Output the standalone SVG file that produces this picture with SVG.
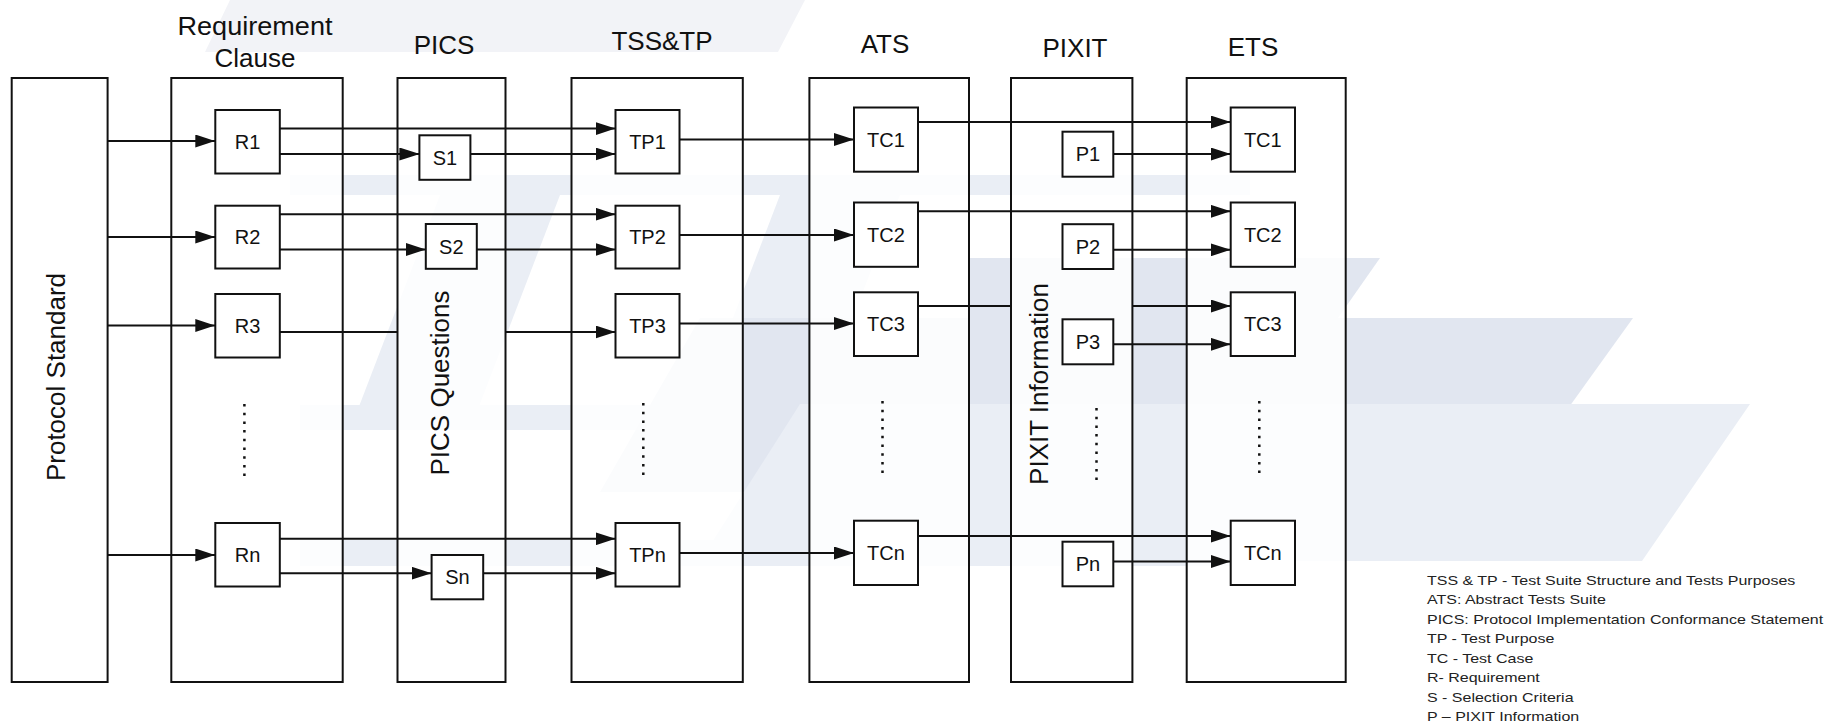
<svg xmlns="http://www.w3.org/2000/svg" width="1834" height="724" viewBox="0 0 1834 724">
<style>
.bg{fill:#ffffff}
.wm{fill:#e1e6f0}
.wm2{fill:#eaeef5}
.wm3{fill:#f2f3f7}
.cont{fill:#ffffff;fill-opacity:0.85;stroke:#111;stroke-width:2}
.node{fill:#ffffff;stroke:#111;stroke-width:2}
.hdr{font-family:"Liberation Sans",Arial,sans-serif;font-size:26px;fill:#111;text-anchor:middle}
.lbl{font-family:"Liberation Sans",Arial,sans-serif;font-size:20px;fill:#111;text-anchor:middle}
.rot{font-family:"Liberation Sans",Arial,sans-serif;font-size:26px;fill:#111;text-anchor:middle}
.leg{font-family:"Liberation Sans",Arial,sans-serif;font-size:13px;fill:#222}
.ln{stroke:#111;stroke-width:2;fill:none}
.arr{stroke:#111;stroke-width:2;fill:none;marker-end:url(#ah)}
.dots{stroke:#111;stroke-width:2.5;stroke-dasharray:2.5 6.2}
</style>
<defs>
<marker id="ah" markerUnits="userSpaceOnUse" markerWidth="20" markerHeight="13" refX="20" refY="6.5" orient="auto">
<path d="M0,0 L20,6.5 L0,13 z" fill="#111"/>
</marker>
</defs>
<rect class="bg" x="0" y="0" width="1834" height="724"/>
<g id="watermark">
<polygon class="wm3" points="230,0 805,0 778,52 205,52"/>
<polygon class="wm2" points="290,175 1250,175 1250,195 290,195"/>
<polygon class="wm2" points="440,195 560,195 470,430 350,430"/>
<polygon class="wm2" points="780,195 900,195 810,430 690,430"/>
<polygon class="wm2" points="300,405 1250,405 1250,430 300,430"/>
<polygon class="wm" points="970,258 1380,258 1338,318 970,318"/>
<polygon class="wm" points="700,318 1633,318 1508,492 600,492"/>
<polygon class="wm2" points="800,404 1750,404 1642,561 700,561"/>
<polygon class="wm2" points="300,540 1250,540 1250,566 300,566"/>
</g>
<g id="containers">
<g id="protocol-standard"><rect class="cont" x="11.7" y="78" width="95.9" height="604"/><text class="rot" transform="translate(65,377) rotate(-90)">Protocol Standard</text></g>
<g id="requirement-clause"><rect class="cont" x="171.3" y="78" width="171.4" height="604"/><text class="hdr" x="255" y="35" textLength="155" lengthAdjust="spacingAndGlyphs">Requirement</text><text class="hdr" x="255" y="67">Clause</text><line class="dots" x1="244.4" y1="404" x2="244.4" y2="477"/></g>
<g id="pics"><rect class="cont" x="397.5" y="78" width="108" height="604"/><text class="hdr" x="444" y="54">PICS</text><text class="rot" transform="translate(449,383) rotate(-90)">PICS Questions</text></g>
<g id="tss-tp"><rect class="cont" x="571.5" y="78" width="171.3" height="604"/><text class="hdr" x="662" y="50">TSS&amp;TP</text><line class="dots" x1="643.3" y1="403" x2="643.3" y2="476"/></g>
<g id="ats"><rect class="cont" x="809.4" y="78" width="159.6" height="604"/><text class="hdr" x="885" y="53">ATS</text><line class="dots" x1="882.5" y1="401" x2="882.5" y2="474"/></g>
<g id="pixit"><rect class="cont" x="1011" y="78" width="121.4" height="604"/><text class="hdr" x="1075" y="57">PIXIT</text><text class="rot" transform="translate(1048,384) rotate(-90)">PIXIT Information</text><line class="dots" x1="1096.5" y1="408" x2="1096.5" y2="481"/></g>
<g id="ets"><rect class="cont" x="1186.7" y="78" width="159" height="604"/><text class="hdr" x="1253" y="56">ETS</text><line class="dots" x1="1259.3" y1="401" x2="1259.3" y2="474"/></g>
</g>
<g id="connectors">
<line class="arr" x1="107.6" y1="141" x2="215.3" y2="141"/>
<line class="arr" x1="107.6" y1="237" x2="215.3" y2="237"/>
<line class="arr" x1="107.6" y1="325.5" x2="215.3" y2="325.5"/>
<line class="arr" x1="107.6" y1="555" x2="215.3" y2="555"/>
<line class="arr" x1="279.8" y1="128.6" x2="615.5" y2="128.6"/>
<line class="arr" x1="279.8" y1="154" x2="419.4" y2="154"/>
<line class="arr" x1="470.4" y1="154" x2="615.5" y2="154"/>
<line class="arr" x1="279.8" y1="214.2" x2="615.5" y2="214.2"/>
<line class="arr" x1="279.8" y1="249.5" x2="425.8" y2="249.5"/>
<line class="arr" x1="476.8" y1="249.5" x2="615.5" y2="249.5"/>
<line class="ln" x1="279.8" y1="332" x2="397.5" y2="332"/>
<line class="arr" x1="505.5" y1="332" x2="615.5" y2="332"/>
<line class="arr" x1="279.8" y1="538.8" x2="615.5" y2="538.8"/>
<line class="arr" x1="279.8" y1="573.2" x2="431.6" y2="573.2"/>
<line class="arr" x1="483.2" y1="573.2" x2="615.5" y2="573.2"/>
<line class="arr" x1="679.5" y1="139.5" x2="854" y2="139.5"/>
<line class="arr" x1="679.5" y1="235" x2="854" y2="235"/>
<line class="arr" x1="679.5" y1="323.5" x2="854" y2="323.5"/>
<line class="arr" x1="679.5" y1="553" x2="854" y2="553"/>
<line class="arr" x1="918" y1="122" x2="1230.7" y2="122"/>
<line class="arr" x1="1113.3" y1="154" x2="1230.7" y2="154"/>
<line class="arr" x1="918" y1="211.3" x2="1230.7" y2="211.3"/>
<line class="arr" x1="1113.3" y1="249.8" x2="1230.7" y2="249.8"/>
<line class="ln" x1="918" y1="306" x2="1011" y2="306"/>
<line class="arr" x1="1132.4" y1="306" x2="1230.7" y2="306"/>
<line class="arr" x1="1113.3" y1="344.3" x2="1230.7" y2="344.3"/>
<line class="arr" x1="918" y1="536" x2="1230.7" y2="536"/>
<line class="arr" x1="1113.3" y1="561.5" x2="1230.7" y2="561.5"/>
</g>
<g id="R1"><rect class="node" x="215.3" y="110" width="64.5" height="63.5"/><text class="lbl" x="247.5" y="149">R1</text></g>
<g id="R2"><rect class="node" x="215.3" y="205.7" width="64.5" height="62.8"/><text class="lbl" x="247.5" y="244">R2</text></g>
<g id="R3"><rect class="node" x="215.3" y="294" width="64.5" height="63.5"/><text class="lbl" x="247.5" y="333">R3</text></g>
<g id="Rn"><rect class="node" x="215.3" y="523" width="64.5" height="63.5"/><text class="lbl" x="247.5" y="562">Rn</text></g>
<g id="S1"><rect class="node" x="419.4" y="135.3" width="51" height="44.5"/><text class="lbl" x="444.9" y="164.5">S1</text></g>
<g id="S2"><rect class="node" x="425.8" y="224" width="51" height="44.8"/><text class="lbl" x="451.3" y="253.5">S2</text></g>
<g id="Sn"><rect class="node" x="431.6" y="555" width="51.6" height="44.3"/><text class="lbl" x="457.4" y="584">Sn</text></g>
<g id="TP1"><rect class="node" x="615.5" y="110" width="64" height="63.5"/><text class="lbl" x="647.5" y="149">TP1</text></g>
<g id="TP2"><rect class="node" x="615.5" y="205.7" width="64" height="62.8"/><text class="lbl" x="647.5" y="244">TP2</text></g>
<g id="TP3"><rect class="node" x="615.5" y="294" width="64" height="63.5"/><text class="lbl" x="647.5" y="333">TP3</text></g>
<g id="TPn"><rect class="node" x="615.5" y="523" width="64" height="63.5"/><text class="lbl" x="647.5" y="562">TPn</text></g>
<g id="ATS-TC1"><rect class="node" x="854" y="107.5" width="64" height="64.2"/><text class="lbl" x="886" y="146.5">TC1</text></g>
<g id="ATS-TC2"><rect class="node" x="854" y="202.5" width="64" height="64.3"/><text class="lbl" x="886" y="241.5">TC2</text></g>
<g id="ATS-TC3"><rect class="node" x="854" y="292.3" width="64" height="63.7"/><text class="lbl" x="886" y="331">TC3</text></g>
<g id="ATS-TCn"><rect class="node" x="854" y="520.7" width="64" height="64.3"/><text class="lbl" x="886" y="559.5">TCn</text></g>
<g id="P1"><rect class="node" x="1062.5" y="131.7" width="50.8" height="45"/><text class="lbl" x="1087.9" y="161">P1</text></g>
<g id="P2"><rect class="node" x="1062.5" y="224.2" width="50.8" height="44.8"/><text class="lbl" x="1087.9" y="253.5">P2</text></g>
<g id="P3"><rect class="node" x="1062.5" y="319.3" width="50.8" height="45"/><text class="lbl" x="1087.9" y="349">P3</text></g>
<g id="Pn"><rect class="node" x="1062.5" y="541.7" width="50.8" height="44.6"/><text class="lbl" x="1087.9" y="571">Pn</text></g>
<g id="ETS-TC1"><rect class="node" x="1230.7" y="107.5" width="64.3" height="64.2"/><text class="lbl" x="1262.8" y="146.5">TC1</text></g>
<g id="ETS-TC2"><rect class="node" x="1230.7" y="202.5" width="64.3" height="64.3"/><text class="lbl" x="1262.8" y="241.5">TC2</text></g>
<g id="ETS-TC3"><rect class="node" x="1230.7" y="292.3" width="64.3" height="63.7"/><text class="lbl" x="1262.8" y="331">TC3</text></g>
<g id="ETS-TCn"><rect class="node" x="1230.7" y="520.7" width="64.3" height="64.3"/><text class="lbl" x="1262.8" y="559.5">TCn</text></g>
<g id="legend" transform="translate(1427,0) scale(1.23,1)">
<text class="leg" x="0" y="585">TSS &amp; TP - Test Suite Structure and Tests Purposes</text>
<text class="leg" x="0" y="604.5">ATS: Abstract Tests Suite</text>
<text class="leg" x="0" y="624">PICS: Protocol Implementation Conformance Statement</text>
<text class="leg" x="0" y="643.5">TP - Test Purpose</text>
<text class="leg" x="0" y="663">TC - Test Case</text>
<text class="leg" x="0" y="682.5">R- Requirement</text>
<text class="leg" x="0" y="702">S - Selection Criteria</text>
<text class="leg" x="0" y="721">P – PIXIT Information</text>
</g>
</svg>
